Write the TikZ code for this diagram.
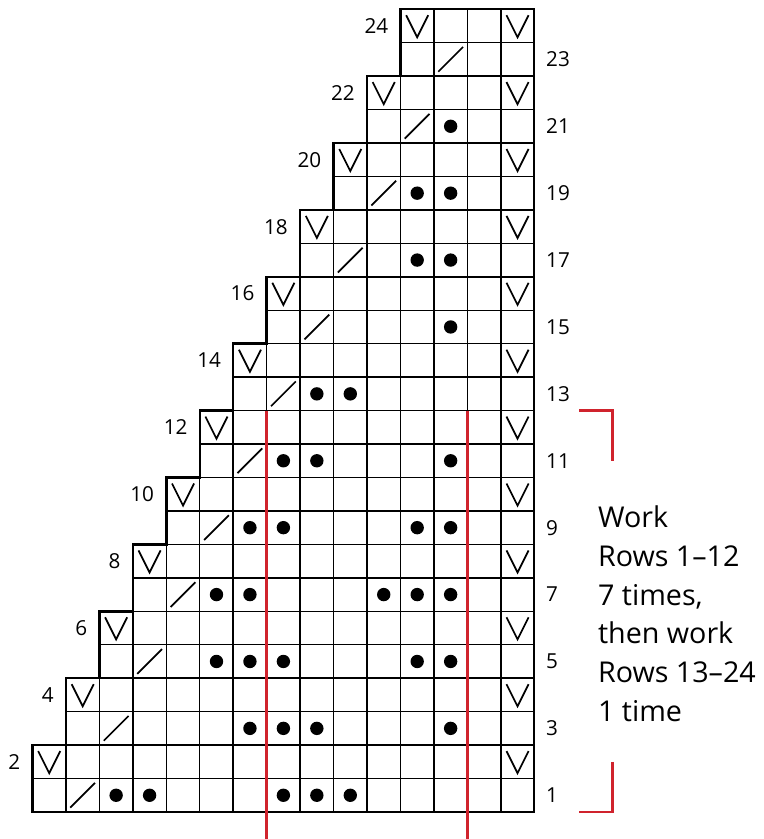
\documentclass[tikz,border=0pt]{standalone}
\usepackage{fontspec}
\setmainfont{Open Sans}
\usetikzlibrary{positioning}
\definecolor{KCInk}{HTML}{000000}
\definecolor{KCRed}{HTML}{D0232D}
\tikzset{
  cellline/.style={KCInk,line width=1.1pt},
  outline/.style={KCInk,line width=1.8pt,line join=miter},
  slipv/.style={KCInk,line width=1.3pt},
  slash/.style={KCInk,line width=1.3pt},
  purl/.style={fill=KCInk},
  repeatline/.style={KCRed,line width=2pt},
  bracket/.style={KCRed,line width=2pt},
  rownum/.style={text=KCInk,font=\fontsize{15.5}{18}\selectfont,inner sep=0pt},
  note/.style={text=KCInk,font=\fontsize{21.5}{29}\selectfont,align=left,inner sep=0pt},
}

\begin{document}
\begin{tikzpicture}[x=25.09pt,y=25.09pt]
  \useasboundingbox (-0.972,-0.807) rectangle (21.84,24.275);
  % --- inner grid: every two rows start one column further right ---
  \foreach \j in {1,...,23}{
    \pgfmathtruncatemacro{\k}{\j/2}
    \draw[cellline] (\k,\j) -- (15,\j);
  }
  \foreach \c in {1,...,14}{
    \pgfmathtruncatemacro{\top}{min(2*\c,24)}
    \draw[cellline] (\c,0) -- (\c,\top);
  }
  \draw[outline] (0,0) -- (15,0) -- (15,24) -- (11,24)
    \foreach \k in {11,...,1}{ -- (\k,2*\k) -- (\k-1,2*\k) } -- cycle;

  % --- slipped stitches (even rows) and decreases (odd rows) ---
  \foreach \k in {0,...,11}{
    \draw[slipv] (\k+.17,2*\k+1.82) -- (\k+.5,2*\k+1.16) -- (\k+.83,2*\k+1.82);
    \draw[slipv] (14.17,2*\k+1.82) -- (14.5,2*\k+1.16) -- (14.83,2*\k+1.82);
    \draw[slash] (\k+1.13,2*\k+.13) -- (\k+1.87,2*\k+.87);
  }

  % --- purl dots, row/columns ---
  \foreach \r/\cols in {1/{2,3,7,8,9},3/{6,7,8,12},5/{5,6,7,11,12},
                        7/{5,6,10,11,12},9/{6,7,11,12},11/{7,8,12},
                        13/{8,9},15/{12},17/{11,12},19/{11,12},21/{12}}{
    \foreach \c in \cols{
      \fill[purl] (\c+.5,\r-.5) circle (.2);
    }
  }

  % --- row numbers ---
  \foreach \k in {0,...,11}{
    \pgfmathtruncatemacro{\ev}{2*\k+2}
    \pgfmathtruncatemacro{\od}{2*\k+1}
    \node[rownum,anchor=east] (even\ev) at (\k-.36,2*\k+1.5) {\ev};
    \node[rownum,anchor=west] (odd\od) at (15.35,2*\k+.5) {\od};
  }

  % --- repeat ---
  \coordinate (repleft) at (7,12);
  \coordinate (repright) at (13,12);
  \coordinate (repleftend) at (7,-0.807);
  \coordinate (reprightend) at (13,-0.807);
  \draw[repeatline] (repleft) -- (repleftend);
  \draw[repeatline] (repright) -- (reprightend);
  \draw[bracket] (16.34,12) -- (17.34,12) -- (17.34,10.5);
  \draw[bracket] (17.34,1.5) -- (17.34,0) -- (16.34,0);
  \node[note,anchor=north west] (worknote) at (16.9,9.15)
    {Work\\Rows 1–12\\7 times,\\then work\\Rows 13–24\\1 time};
\end{tikzpicture}
\end{document}
